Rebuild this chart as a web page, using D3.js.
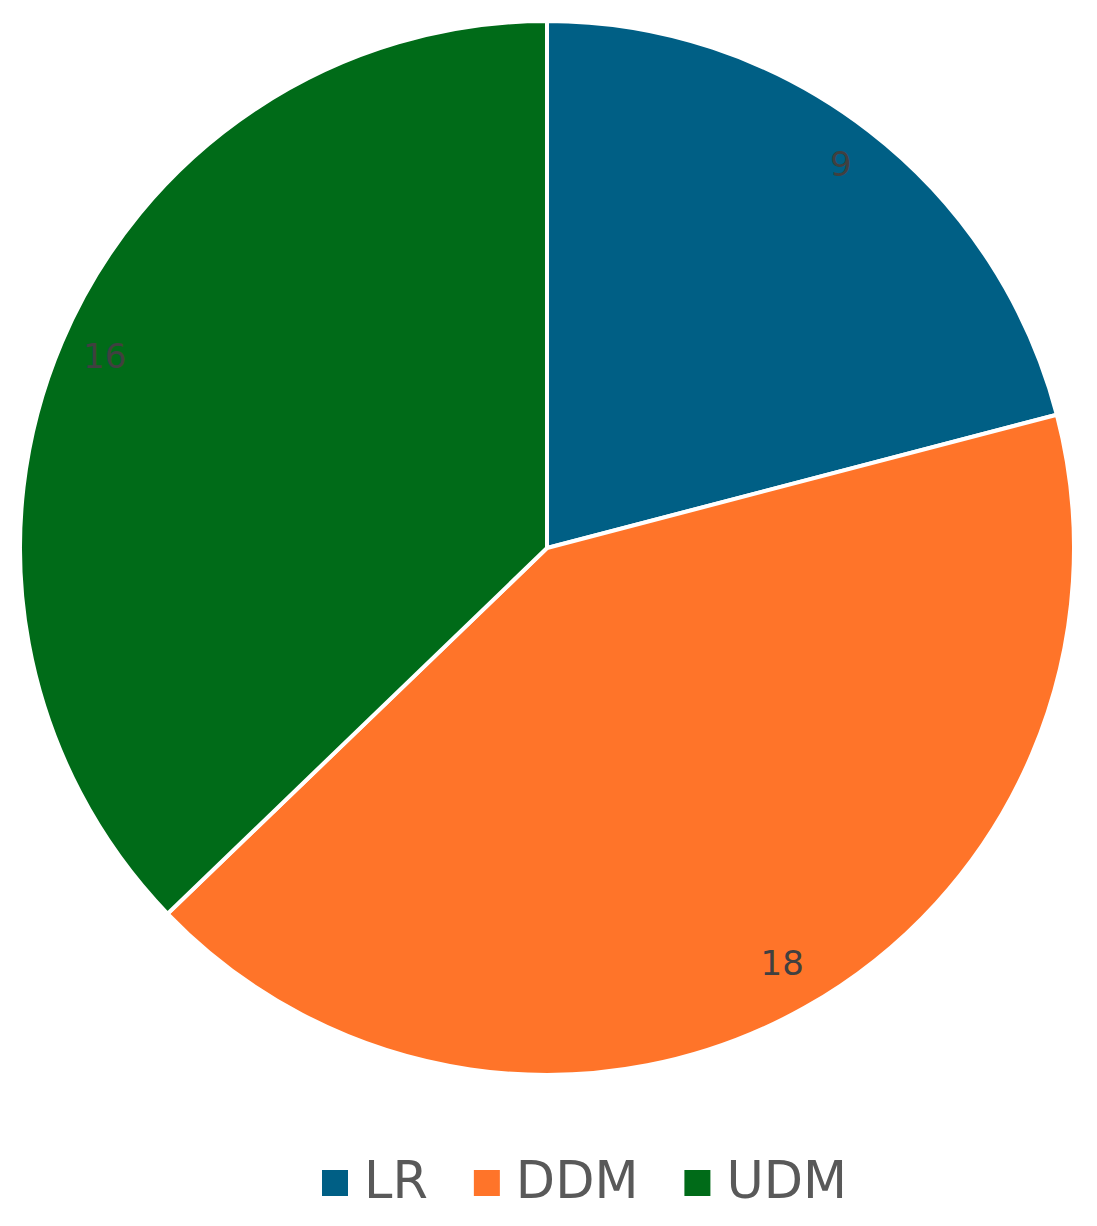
<!DOCTYPE html>
<html><head><meta charset="utf-8">
<script src="https://cdn.jsdelivr.net/npm/d3@7"></script>
<style>body{margin:0;background:#fff}</style>
</head><body>
<script>
const categories = ["LR", "DDM", "UDM"];
const values = [9, 18, 16];
const colors = ["#005f85", "#ff7429", "#006b18"];

const W = 1097, H = 1226;
const cx = 547, cy = 548, R = 527;
const svg = d3.select("body").append("svg").attr("width", W).attr("height", H);
const data = categories.map((c, i) => ({c, v: values[i], col: colors[i]}));
const pie = d3.pie().value(d => d.v).sort(null);
const arcs = pie(data);
const arc = d3.arc().innerRadius(0).outerRadius(R);
const g = svg.append("g").attr("transform", `translate(${cx},${cy})`);
g.selectAll("path").data(arcs).join("path")
  .attr("d", arc).attr("fill", d => d.data.col)
  .attr("stroke", "#fff").attr("stroke-width", 4).attr("stroke-linejoin", "miter");
const lab = d3.arc().innerRadius(R * 0.912).outerRadius(R * 0.912);
g.selectAll("text").data(arcs).join("text")
  .attr("transform", d => `translate(${lab.centroid(d)})`)
  .attr("text-anchor", "middle").attr("dy", "0.24em")
  .attr("font-family", "DejaVu Sans").attr("font-size", 34)
  .attr("fill", "#404040").text(d => d.data.v);

const leg = svg.append("g");
let x = 322;
data.forEach(d => {
  leg.append("rect").attr("x", x).attr("y", 1170).attr("width", 26).attr("height", 26).attr("fill", d.col);
  const t = leg.append("text").attr("x", x + 42).attr("y", 1198)
    .attr("font-family", "DejaVu Sans").attr("font-size", 51).attr("fill", "#595959").text(d.c);
  x = x + 42 + t.node().getComputedTextLength() + 46;
});
</script>
</body></html>
